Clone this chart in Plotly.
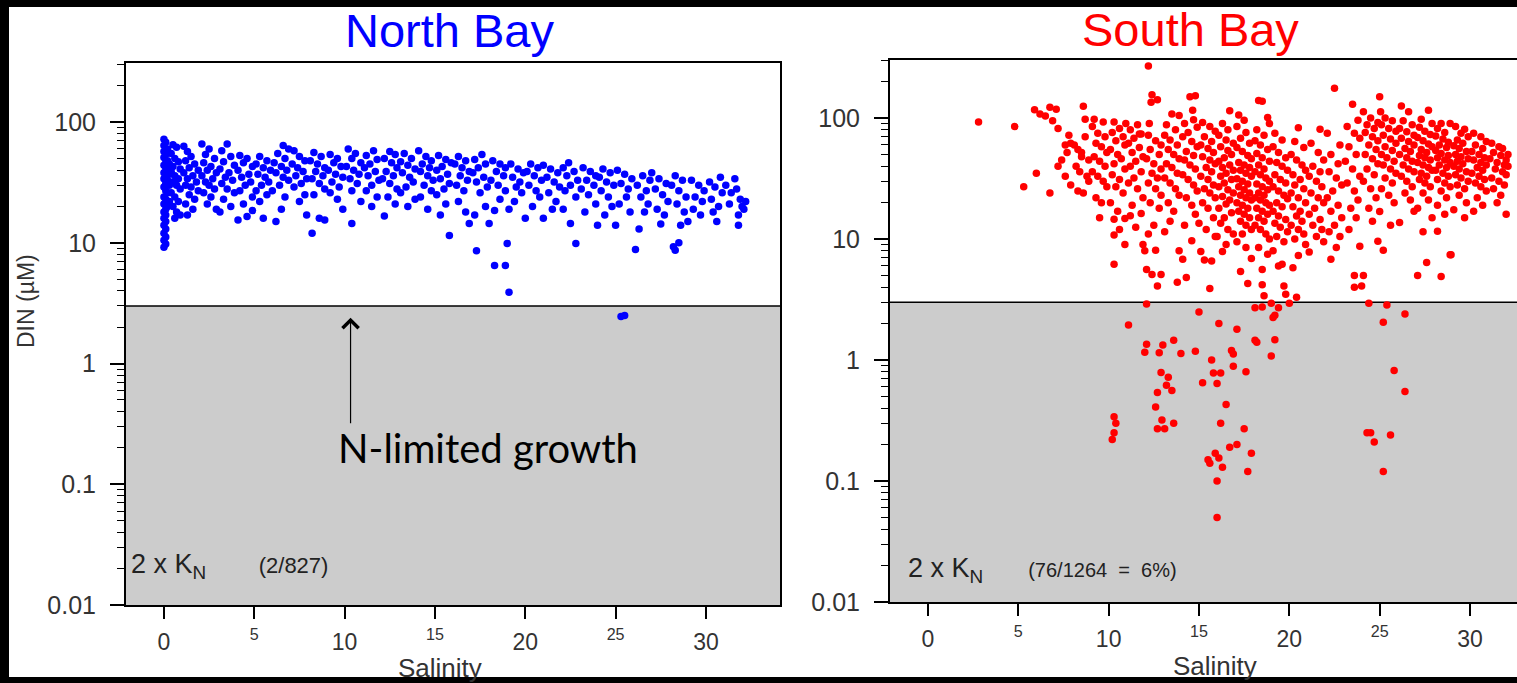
import numpy as np
import plotly.graph_objects as go

W, H = 1517, 683

# ---------------- North Bay (salinity, DIN in uM) ----------------
north_salinity = [
    0.0,0.1,0.0,0.2,0.0,0.1,0.0,0.2,0.1,0.0,0.1,0.2,0.0,0.1,0.0,0.2,0.1,0.0,0.1,0.2,0.0,0.1,0.0,0.2,0.1,0.0,0.1,0.0,0.1,0.0,0.1,0.0,0.1,0.0,0.1,0.0,0.3,0.3,0.3,0.3,
    0.5,0.7,0.4,0.6,0.8,0.5,0.9,0.4,0.6,0.8,0.5,0.7,0.9,0.4,0.6,0.8,0.5,0.7,0.9,0.6,
    1.1,1.3,1.5,1.2,1.7,1.4,1.9,1.1,1.6,1.3,1.8,1.2,1.5,1.9,1.4,1.7,1.2,1.6,1.3,
    2.1,2.5,2.3,2.8,2.2,2.6,2.4,2.9,2.1,2.7,2.3,2.5,2.8,2.2,2.6,2.4,2.9,
    3.5,3.2,3.7,3.3,3.9,3.1,3.6,3.4,3.8,3.2,3.5,3.9,3.3,3.7,3.1,
    4.2,4.6,4.4,4.9,4.1,4.7,4.3,4.8,4.5,4.2,4.9,4.4,4.1,4.6,4.9,
    5.3,5.7,5.1,5.5,5.9,5.2,5.6,5.8,5.4,5.1,5.7,5.3,5.5,
    6.6,6.9,6.3,6.7,6.1,6.5,6.8,6.2,6.6,6.9,6.4,6.0,6.7,6.2,6.5,
    7.2,7.5,7.8,7.1,7.4,7.7,7.3,7.9,7.6,7.2,7.8,7.5,7.9,
    8.3,8.7,8.1,8.5,8.9,8.4,8.8,8.2,8.6,8.9,8.3,8.2,8.6,8.9,
    9.2,9.6,9.4,9.8,9.1,9.5,9.9,9.3,9.7,9.2,9.6,9.9,
    10.2,10.6,10.4,10.9,10.1,10.5,10.8,10.3,10.7,10.4,10.4,10.9,
    11.6,11.2,11.8,11.4,11.1,11.7,11.3,11.9,11.5,11.2,11.8,11.5,
    12.5,12.8,12.2,12.6,12.9,12.3,12.7,12.1,12.5,12.9,12.4,12.2,12.8,
    13.3,13.7,13.1,13.5,13.9,13.2,13.6,13.8,13.4,13.1,13.5,13.9,
    14.1,14.5,14.8,14.3,14.7,14.2,14.6,14.9,14.4,14.8,14.2,14.6,
    15.2,15.6,15.9,15.4,15.1,15.7,15.3,15.8,15.5,15.1,15.8,15.6,15.3,
    16.3,16.7,16.1,16.5,16.9,16.4,16.8,16.2,16.6,16.9,16.3,16.7,
    17.6,17.2,17.8,17.4,17.1,17.7,17.3,17.9,17.5,17.3,17.8,17.2,
    18.2,18.6,18.9,18.4,18.8,18.1,18.5,18.9,18.3,18.9,18.0,18.6,18.3,
    19.1,19.0,19.4,19.2,19.6,19.9,19.3,19.7,19.5,19.8,19.1,
    20.3,20.7,20.1,20.5,20.9,20.2,20.6,20.0,20.8,20.4,
    21.0,21.4,21.8,21.2,21.6,21.9,21.3,21.0,21.7,21.5,
    22.4,22.1,22.7,22.3,22.9,22.5,22.2,22.8,22.5,22.8,22.1,
    23.2,23.6,23.9,23.4,23.8,23.1,23.5,23.9,23.3,
    24.3,24.7,24.1,24.5,24.9,24.2,24.6,24.0,24.8,24.4,
    25.1,25.5,25.9,25.3,25.7,25.0,25.3,25.5,25.6,25.2,25.8,
    26.1,26.3,26.5,26.9,26.2,26.7,26.4,26.8,26.6,
    27.0,27.4,27.8,27.2,27.6,27.5,27.9,27.3,27.7,
    28.3,28.7,28.1,28.5,28.9,28.2,28.3,28.5,28.6,28.4,28.8,
    29.0,29.2,29.6,29.9,29.4,29.8,29.3,29.7,
    30.2,30.8,30.5,30.9,30.3,30.7,30.6,30.4,
    31.1,31.6,31.8,31.8,31.4,31.9,32.0,32.2,32.1,31.3,31.7,
]
north_din = [
    72,68,64,60,57,54,51,48,46,44,42,40,38,36,34,33,31,29,27,26,24,23,21,20,19,18,17,16,15,14,13,12,11.2,10.5,9.8,9.2,45,37,30,22,
    65,62,55,50,47,43,41,39,36,34,32,30,28,26,24,22,20,18,17,16,
    63,57,52,48,45,42,40,38,36,34,32,30,29,27,25,23,21,19,17,
    66,60,54,50,46,43,40,38,36,34,32,30,28,26,24,21,19,
    66,58,52,47,44,41,38,35,33,31,28,26,23,20,18,
    53,50,46,43,40,37,35,32,30,27,24,21,15.5,16.5,18.5,
    52,48,45,42,40,37,35,32,30,27,25,22,16,
    64,60,55,50,46,43,40,38,35,33,30,27,24,15,19,
    58,52,48,45,42,39,36,34,31,29,25,22,17,
    56,52,48,45,42,39,36,34,31,28,25,12,16,15.5,
    54,50,46,43,40,37,35,32,29,26,23,19,
    60,55,50,46,43,40,37,34,31,27,14.5,22,
    58,53,49,45,42,39,36,33,30,27,24,20,
    57,54,50,46,42,39,36,34,31,28,24,16.7,21,
    55,50,47,44,41,38,35,32,29,26,20,23,
    58,52,48,45,42,39,36,33,30,27,24,19,
    53,49,46,43,40,37,34,31,28,25,11.5,21,17,
    52,48,45,42,39,36,33,30,27,14.5,22,18,
    54,49,45,42,38,35,32,29,26,8.6,20,17,
    48,45,42,39,36,33,30,27,6.5,6.5,14.5,23,18.5,
    3.9,9.9,22,45,41,38,35,32,29,26,19,
    45,42,39,36,33,30,27,16,24,20,
    44,41,38,35,32,29,26,16,22,19,
    46,42,39,36,33,30,27,9.9,14.5,24,19,
    42,39,36,33,30,28,25,21,18,
    41,38,35,32,30,27,24,14,20,17,
    40,37,34,31,28,14,2.45,2.5,24,21,18,
    8.8,13,36,33,30,27,24,21,18,
    38,34,31,28,25,14.3,22,19,17,
    36,33,30,27,24,9.3,8.7,10,14,21,18,
    15,33,30,27,24,22,19,17,
    32,35,29,26,23,20,15,18,
    30,34,14,17,26,23,20,22,19,21,28,
]

# ---------------- South Bay (salinity, DIN in uM) ----------------
south_salinity = [
    2.8,4.8,5.3,6.0,6.75,5.9,6.2,6.5,6.9,7.2,7.8,6.75,7.1,7.6,7.9,7.4,7.7,7.2,7.6,7.9,
    8.6,8.7,8.1,8.3,8.5,8.9,8.2,8.4,8.8,8.3,8.6,8.9,8.5,8.7,
    9.2,9.7,9.1,9.4,9.8,9.3,9.6,9.9,9.2,9.5,9.8,9.1,9.4,9.7,9.9,9.3,9.6,9.5,
    10.3,10.95,10.6,10.2,10.8,10.4,10.9,10.1,10.5,10.7,10.3,10.9,10.2,10.6,10.4,10.8,10.1,10.5,10.3,10.9,10.3,10.3,10.9,10.6,
    11.6,11.2,11.8,11.4,11.1,11.7,11.3,11.9,11.5,11.2,11.8,11.4,11.1,11.6,11.9,11.3,11.2,11.8,11.9,11.5,
    12.2,12.4,12.35,12.7,12.25,11.7,12.2,12.6,12.9,12.3,12.8,12.1,12.5,12.9,12.4,12.7,12.2,12.6,12.9,12.3,12.8,12.0,12.1,12.4,12.9,12.6,12.7,12.5,12.2,
    13.5,13.9,13.2,13.7,13.1,13.4,13.8,13.3,13.6,13.9,13.2,13.5,13.8,13.1,13.4,13.7,13.9,13.3,13.6,13.8,13.9,13.4,13.1,
    14.5,14.8,14.65,14.7,14.2,14.9,14.4,14.1,14.6,14.9,14.3,14.7,14.2,14.5,14.8,14.1,14.4,14.7,14.9,14.3,14.6,14.1,14.3,14.6,14.8,14.2,
    15.2,15.6,15.9,15.3,15.7,15.1,15.5,15.8,15.2,15.6,15.9,15.4,15.7,15.1,15.5,15.8,15.3,15.6,15.9,15.2,15.5,15.8,15.1,15.3,15.7,15.6,15.4,15.9,15.0,
    16.7,16.3,16.6,16.1,16.5,16.9,16.2,16.6,16.8,16.4,16.1,16.7,16.3,16.9,16.5,16.2,16.8,16.4,16.1,16.6,16.9,16.3,16.7,16.5,16.1,16.8,16.4,16.2,16.6,16.0,16.3,16.9,16.5,
    17.2,17.5,17.1,17.6,17.3,17.8,17.1,17.4,17.7,17.9,17.2,17.5,17.8,17.3,17.6,17.9,17.1,17.4,17.7,17.2,17.5,17.8,17.3,17.6,17.9,17.1,17.4,17.7,17.2,17.5,17.8,17.3,17.6,17.9,17.4,17.3,17.7,17.9,17.1,17.6,
    18.3,18.5,18.8,18.9,18.2,18.6,18.1,18.4,18.8,18.2,18.5,18.9,18.3,18.6,18.1,18.4,18.7,18.9,18.2,18.5,18.8,18.3,18.6,18.1,18.4,18.7,18.9,18.2,18.5,18.8,18.3,18.6,18.1,18.4,18.7,18.9,18.5,18.6,18.5,18.3,18.8,
    19.2,19.6,19.1,19.4,19.8,19.3,19.6,19.9,19.2,19.5,19.8,19.1,19.4,19.7,19.9,19.3,19.6,19.1,19.4,19.8,19.2,19.5,19.9,19.3,19.7,19.4,19.6,19.7,19.8,19.1,
    20.5,20.3,20.8,20.1,20.4,20.7,20.9,20.2,20.6,20.3,20.8,20.1,20.5,20.9,20.2,20.6,20.4,20.7,20.1,20.5,20.8,20.3,20.4,20.2,20.5,20.9,
    21.7,21.2,21.6,21.9,21.3,21.7,21.1,21.5,21.8,21.2,21.6,21.9,21.4,21.1,21.7,21.3,21.8,21.5,21.1,21.9,
    22.5,22.1,22.8,22.3,22.7,22.2,22.6,22.9,22.4,22.1,22.7,22.3,22.9,22.5,22.2,22.8,22.3,22.6,
    23.5,23.8,23.2,23.6,23.9,23.3,23.7,23.1,23.5,23.9,23.2,23.6,23.8,23.4,23.7,23.9,23.6,23.6,23.3,
    24.1,24.0,24.1,24.5,24.9,24.3,24.7,24.2,24.6,24.9,24.4,24.8,24.2,24.6,24.9,24.3,24.7,24.1,24.5,24.8,24.4,24.9,24.6,
    25.0,25.05,25.3,25.7,25.1,25.5,25.9,25.2,25.6,25.9,25.3,25.7,25.1,25.4,25.8,25.2,25.6,25.9,25.3,25.7,25.1,25.5,25.8,25.2,25.0,25.6,
    26.2,26.6,26.3,26.8,26.1,26.5,26.9,26.2,26.6,26.9,26.4,26.7,26.1,26.5,26.8,26.3,26.6,26.9,26.2,26.5,26.8,26.4,26.7,26.1,26.9,
    27.7,27.3,27.9,27.2,27.5,27.8,27.1,27.4,27.7,27.9,27.3,27.6,27.2,27.5,27.8,27.1,27.4,27.7,27.9,27.3,27.6,27.2,27.5,27.8,27.4,27.7,27.1,27.4,27.1,27.6,27.9,
    28.4,28.9,28.2,28.6,28.1,28.5,28.8,28.3,28.7,28.1,28.4,28.8,28.2,28.6,28.9,28.3,28.7,28.1,28.5,28.8,28.2,28.6,28.9,28.4,28.7,28.2,28.9,28.95,28.4,28.2,28.6,
    29.7,29.2,29.5,29.9,29.3,29.6,29.1,29.4,29.8,29.2,29.5,29.9,29.3,29.6,29.1,29.4,29.8,29.2,29.5,29.9,29.3,29.7,29.4,29.8,29.7,29.1,
    30.2,30.6,30.9,30.3,30.7,30.1,30.5,30.8,30.2,30.6,30.9,30.4,30.7,30.1,30.5,30.8,30.3,30.6,30.9,30.4,30.7,30.2,
    31.2,31.6,31.8,31.3,31.7,31.1,31.5,31.9,32.1,31.4,31.8,32.0,31.2,31.6,31.9,31.3,31.7,32.0,31.5,32.1,32.0,
    11.1,12.1,12.0,13.0,12.8,13.6,14.0,14.8,15.0,16.1,17.1,16.8,16.9,15.7,18.1,18.2,19.2,19.0,18.1,18.5,19.4,19.2,19.1,19.0,20.0,
    24.4,25.4,25.2,26.4,25.8,26.4,16.9,17.6,15.8,16.2,15.2,16.0,12.9,13.3,13.2,13.5,12.7,16.5,12.6,10.3,10.4,10.3,10.2,12.95,12.7,
    13.1,13.6,16.2,17.5,17.1,16.7,17.9,15.9,16.1,15.5,15.6,16.3,17.7,16.0,16.0,24.3,24.5,24.7,25.6,25.2,12.1,
]
south_din = [
    93,85,27,35,24,117,108,104,95,82,72,123,118,60,62,45,52,40,33,28,
    125,98,60,55,48,45,40,36,33,25,24,30,52,70,
    98,93,85,75,70,62,58,52,48,44,40,36,33,30,27,22,20,15,
    93,90,82,76,70,65,60,55,50,46,42,38,34,31,27,24,20,17,14.6,14.8,10.8,6.2,9,12,
    88,80,74,68,62,57,52,48,44,40,36,32,29,26,22,19,15.6,16.3,9,12.5,
    270,156,135,142,90,74,72,65,60,55,50,46,42,38,35,32,29,26,23,20,18,8,5.6,5.1,5.1,8.1,4.1,13,11,
    108,105,88,80,72,66,60,55,50,46,42,39,35,32,29,26,23,20,17,4.4,8,14,11.5,
    150,153,116,97,90,84,76,70,64,58,53,49,45,41,38,34,31,28,25,22,19,6.8,4.8,9.7,16,13,
    92,85,78,70,64,60,56,52,48,45,42,39,36,33,31,28,26,24,22,20,18,15,7.9,6.7,6.6,3.9,12,10.5,13.5,
    115,90,80,72,66,62,58,54,50,47,44,41,39,37,35,33,31,29,27,25.5,24,22.5,21,19.5,18,16.5,15,13.5,12,10.5,7.9,11,9,
    106,96,85,76,68,62,57,53,49,46,43,41,39,37,35,33,31.5,30,28.5,27,25.5,24,23,22,21,20,19,18,17,16,15,14,13,12,11,5.4,4.3,6.9,9.5,8.5,
    140,138,101,90,80,72,65,60,55,51,47,44,41,38,36,34,32,30,28.5,27,25.5,24,23,22,21,20,19,18,17,16,15,14,13,12,11,10,4.2,3.4,5.6,8.5,7.5,
    75,66,58,52,47,43,40,37,34,31,29,27,25,23,21.5,20,18.5,17,15.5,14.5,13.5,12.5,11.5,10.5,9.5,6.0,6.2,4.1,3.5,8,
    83,64,57,50,45,41,37,34,31,28,26,24,22,20,18.5,17,15.5,14,13,12,11,10,3.3,5.8,7.3,9,
    81,62,52,45,40,36,33,30,27,24,22,20,18,16,14.5,13,12,10.5,7.8,9.5,
    176,75,60,50,42,36,32,28,25,22,19,17,15,13,11.5,10.5,6.8,8.5,
    130,96,85,75,68,58,50,44,38,33,29,25,21,18,15,8.7,5.0,4.0,12,
    113,4.1,5.0,100,92,88,82,76,70,65,60,55,50,46,42,38,34,30,26,22,18,9.6,14,
    150,113,100,95,88,82,78,72,67,62,58,54,50,47,44,41,38,35,32,29,26,23,20,8.1,16.9,13,
    126,113,95,88,82,77,72,68,64,60,56,53,50,47,44,41,38,36,33,30,27,24,21,13.7,17,
    116,98,90,84,78,73,69,65,61,58,55,52,49,47,45,43,41,39,37,35,33,31,29,27,24,21,18,11.5,5.0,6.4,15,
    90,90,82,76,71,67,63,60,57,54,51,49,47,45,43,41,39,37,35,33,31,29,27,25,22,19,7.4,7.4,4.9,11.6,16,
    81,85,75,70,66,62,59,56,53,50,48,46,44,42,40,38,36,34,32,30,28,26,23,20,15,17.5,
    75,70,64,60,56,53,50,47,45,43,41,39,37,35,33,31,29,27,25,22,19,17,
    62,58,56,52,49,46,43,41,40,38,36,34,32,30,28,26,23,16,20,50,45,
    1.95,1.35,1.16,1.33,1.15,1.46,1.13,1.18,2.5,2.0,1.8,1.2,1.12,1.0,1.46,1.4,1.47,1.08,2.7,2.75,2.7,2.35,2.25,2.95,2.95,
    2.95,2.85,2.05,2.4,0.82,0.55,0.89,0.8,0.78,0.78,0.65,0.64,0.79,0.72,0.62,0.56,0.54,0.43,0.41,0.34,0.3,0.25,0.22,0.32,0.27,
    0.27,0.3,0.3,0.27,0.2,0.19,0.17,0.17,0.155,0.15,0.14,0.13,0.12,0.10,0.05,0.25,0.25,0.21,0.24,0.12,2.9,
]

# ---------------- axes / labels ----------------
y_tick_vals = [0.01, 0.1, 1, 10, 100]
y_tick_text = ["0.01", "0.1", "1", "10", "100"]
x_tick_vals = [0, 5, 10, 15, 20, 25, 30]
x_tick_text = ["0", "<sup>5</sup>", "10", "<sup>15</sup>", "20", "<sup>25</sup>", "30"]
kn_threshold = 3.0   # 2 x K_N
north_note = "(2/827)"
south_note = "(76/1264\u00a0 =\u00a0 6%)"

FONT = "Liberation Sans, Arial, sans-serif"
NB = "\u00a0"


def px(x):
    return x / W


def py(y):
    return 1 - y / H


fig = go.Figure()
fig.add_trace(go.Scatter(x=north_salinity, y=north_din, mode="markers",
                         marker=dict(color="#0000ff", size=7.5, line=dict(width=0)),
                         xaxis="x", yaxis="y", showlegend=False, hoverinfo="skip"))
fig.add_trace(go.Scatter(x=south_salinity, y=south_din, mode="markers",
                         marker=dict(color="#ff0000", size=7.5, line=dict(width=0)),
                         xaxis="x2", yaxis="y2", showlegend=False, hoverinfo="skip"))

xtickfont = dict(family=FONT, size=23, color="#333333")
ytickfont = dict(family=FONT, size=25, color="#333333")


def xaxis_cfg(domain, rng, anchor):
    return dict(domain=domain, range=rng, anchor=anchor, tickmode="array",
                tickvals=x_tick_vals, ticktext=x_tick_text, ticks="outside",
                ticklen=12, tickwidth=1.5, tickcolor="black", showline=True,
                linecolor="black", linewidth=2, mirror=True, showgrid=False,
                zeroline=False, tickfont=xtickfont, ticklabelstandoff=3,
                automargin=False)


def yaxis_cfg(domain, rng, anchor, mirror):
    return dict(domain=domain, range=rng, anchor=anchor, type="log",
                tickmode="array", tickvals=y_tick_vals, ticktext=y_tick_text,
                ticks="outside", ticklen=14, tickwidth=1.5, tickcolor="black",
                minor=dict(ticks="outside", ticklen=7, tickwidth=1.2,
                           tickcolor="black", dtick="D1", showgrid=False),
                showline=True, linecolor="black", linewidth=2, mirror=mirror,
                showgrid=False, zeroline=False, tickfont=ytickfont,
                ticklabelstandoff=9, automargin=False)


fig.update_layout(
    width=W, height=H,
    margin=dict(l=0, r=0, t=0, b=0, pad=0, autoexpand=False),
    paper_bgcolor="black", plot_bgcolor="white",
    xaxis=xaxis_cfg([px(126), px(780)], [-2.1, 34.1], "y"),
    yaxis=yaxis_cfg([py(605), py(63)], [-2, 2.49], "x", True),
    xaxis2=xaxis_cfg([px(890), 1.0], [-2.1, 32.6], "y2"),
    yaxis2=yaxis_cfg([py(602), py(60)], [-2, 2.48], "x2", False),
)

shapes = [
    dict(type="rect", xref="paper", yref="paper", x0=px(9), x1=1.0, y0=py(677), y1=py(7),
         fillcolor="white", line=dict(width=0), layer="below"),
]
for xr, yr in (("x", "y"), ("x2", "y2")):
    shapes.append(dict(type="rect", xref=f"{xr} domain", yref=yr, x0=0, x1=1,
                       y0=0.01, y1=kn_threshold, fillcolor="#cccccc",
                       line=dict(width=0), layer="below"))
    shapes.append(dict(type="line", xref=f"{xr} domain", yref=yr, x0=0, x1=1,
                       y0=kn_threshold, y1=kn_threshold,
                       line=dict(color="black", width=1.5), layer="below"))
fig.update_layout(shapes=shapes)

annotations = [
    dict(text="North Bay", x=px(450), y=py(31), xref="paper", yref="paper",
         showarrow=False, font=dict(family=FONT, size=47, color="#0000ff"),
         xanchor="center", yanchor="middle"),
    dict(text="South Bay", x=px(1190), y=py(29), xref="paper", yref="paper",
         showarrow=False, font=dict(family=FONT, size=47, color="#ff0000"),
         xanchor="center", yanchor="middle"),
    dict(text="DIN (\u00b5M)", x=px(26), y=py(301), xref="paper", yref="paper",
         showarrow=False, textangle=-90, font=dict(family=FONT, size=23, color="#333333"),
         xanchor="center", yanchor="middle"),
    dict(text="Salinity", x=px(440), y=py(668), xref="paper", yref="paper",
         showarrow=False, font=dict(family=FONT, size=26, color="#333333"),
         xanchor="center", yanchor="middle"),
    dict(text="Salinity", x=px(1215), y=py(666), xref="paper", yref="paper",
         showarrow=False, font=dict(family=FONT, size=26, color="#333333"),
         xanchor="center", yanchor="middle"),
    dict(text="N-limited growth", x=px(336), y=py(448), xref="paper", yref="paper",
         showarrow=False, font=dict(family="Lato, Carlito, sans-serif", size=40, color="black"),
         xanchor="left", yanchor="middle"),
    dict(text="", x=10.33, y=np.log10(2.4), xref="x", yref="y", showarrow=True,
         ax=0, ay=107, arrowhead=4, arrowsize=2.6, arrowwidth=1.2, arrowcolor="black"),
    dict(text="2 x K<sub>N</sub>" + NB * 7 + "<span style='font-size:22px'>" + north_note + "</span>",
         x=px(129), y=py(566), xref="paper", yref="paper", showarrow=False,
         font=dict(family=FONT, size=27, color="#222222"), xanchor="left", yanchor="middle"),
    dict(text="2 x K<sub>N</sub>" + NB * 6 + "<span style='font-size:20px'>" + south_note + "</span>",
         x=px(906), y=py(570), xref="paper", yref="paper", showarrow=False,
         font=dict(family=FONT, size=27, color="#222222"), xanchor="left", yanchor="middle"),
]
fig.update_layout(annotations=annotations)

fig.write_html("out.html", config={"displayModeBar": False},
               post_script="document.body.style.margin='0px';document.body.style.overflow='hidden';")
